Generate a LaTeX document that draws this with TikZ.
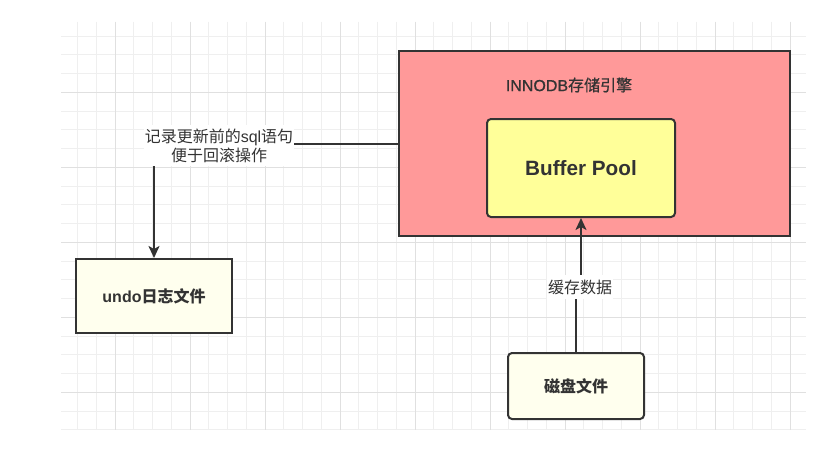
\documentclass[tikz,border=0pt]{standalone}
\usepackage{fontspec}
\setmainfont{Noto Sans CJK SC}
\newfontfamily\lat{Liberation Sans}
\newfontfamily\medcjk{Noto Sans CJK SC}[FakeBold=0.8]
\newfontfamily\medlat{Liberation Sans}[FakeBold=0.8]
\usetikzlibrary{arrows.meta}
\definecolor{gridminor}{HTML}{EFEFEF}
\definecolor{gridmajor}{HTML}{E0E0E0}
\definecolor{edge}{HTML}{333333}
\definecolor{pinkfill}{HTML}{FF9999}
\definecolor{yellowfill}{HTML}{FFFF99}
\definecolor{creamfill}{HTML}{FFFFEE}
\begin{document}
\begin{tikzpicture}[x=1pt,y=-1pt,
  box/.style={draw=edge, line width=2pt, inner sep=0pt, text=edge},
  conn/.style={draw=edge, line width=2pt},
  tip/.style={-{Stealth[length=12pt,width=11pt,inset=3pt]}},
  lbl/.style={fill=white, text=edge, align=center, font=\fontsize{16}{19}\selectfont, inner sep=1pt},
  bigtxt/.style={font=\fontsize{16}{19}\selectfont\bfseries}]
\fill[white] (0,0) rectangle (835,452);
\useasboundingbox (0,0) rectangle (835,452);
\begin{scope}
  \clip (61,22) rectangle (806,430);
  \foreach \i in {0,...,40} {
    \draw[gridminor, line width=1pt] ({58.75+18.75*\i},22) -- ++(0,408);
    \draw[gridminor, line width=1pt] (61,{17.3+18.75*\i}) -- ++(745,0);
  }
  \foreach \i in {0,...,10} {
    \draw[gridmajor, line width=1pt] ({40+75*\i},22) -- ++(0,408);
    \draw[gridmajor, line width=1pt] (61,{17.3+75*\i}) -- ++(745,0);
  }
\end{scope}

\node[box, fill=pinkfill, minimum width=391pt, minimum height=185pt] (inno) at (594.5,143.5) {};
\node[text=edge, font=\fontsize{16}{19}\selectfont, inner sep=0pt] (title) at (569,85) {{\medlat INNODB}{\medcjk 存储引擎}};
\node[box, fill=yellowfill, rounded corners=4pt, minimum width=188pt, minimum height=98pt] (bp) at (581,168) {};
\node[text=edge, font=\fontsize{20.7}{24}\selectfont\bfseries\lat, inner sep=0pt] (bptxt) at (bp.center) {Buffer Pool};
\node[box, fill=creamfill, rounded corners=4pt, minimum width=136pt, minimum height=66pt, bigtxt] (disk) at (576,386) {磁盘文件};
\node[box, fill=creamfill, minimum width=156pt, minimum height=74pt, bigtxt] (undo) at (154,296) {{\lat undo}日志文件};

\coordinate (c1) at (154,143.5);
\draw[conn, tip] (inno.west) -- (c1) -- (undo.north);
\node[lbl, minimum height=41pt] (l1) at (219,145.5) {记录更新前的{\lat sql}语句\\便于回滚操作};

\node[lbl, minimum height=24pt] (l2) at (580,287) {缓存数据};
\draw[conn] (disk.north) -- (disk.north |- l2.south);
\draw[conn, tip] (bp.south |- l2.north) -- (bp.south);
\end{tikzpicture}
\end{document}
